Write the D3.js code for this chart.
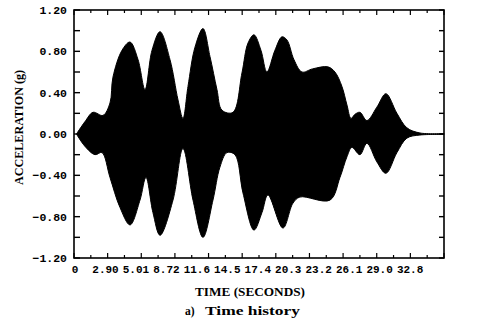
<!DOCTYPE html>
<html>
<head>
<meta charset="utf-8">
<script src="https://cdnjs.cloudflare.com/ajax/libs/d3/7.8.5/d3.min.js"></script>
<style>
  body { margin: 0; background: #fff; }
  svg { display: block; }
  .tick-label { font-family: "Liberation Mono", "DejaVu Sans Mono", monospace; font-weight: bold; font-size: 11.5px; fill: #000; }
  .xlab { font-size: 11px; }
  .title { font-family: "Liberation Serif", "Times New Roman", serif; font-weight: bold; fill: #000; }
</style>
</head>
<body>
<svg id="chart" width="477" height="333"></svg>
<script>
(function (d3) {
    'use strict';

    // x tick labels as printed on the original
    var xLabels = ['0', '2.90', '5.01', '8.72', '11.6', '14.5', '17.4', '20.3', '23.2', '26.1', '29.0', '32.8'];
    var yLabels = [1.2, 0.8, 0.4, 0.0, -0.4, -0.8, -1.2];

    // upper envelope of the acceleration record (time s, g)
    var upperT = [0.24, 1.07, 1.85, 2.82, 3.5, 3.79, 4.67, 5.45, 6.23, 6.91, 7.59, 8.37, 9.34, 10.12, 10.6,
        11.09, 11.77, 12.55, 13.23, 13.91, 14.4, 15.47, 16.34, 16.93, 17.51, 18.19, 18.77, 19.55, 20.23,
        20.72, 21.4, 22.18, 23.2, 24.7, 25.39, 26.07, 26.56, 26.95, 27.33, 27.82, 28.5, 29.47, 30.35,
        31.42, 32.39, 33.66, 36.0];
    var upperV = [0, 0.12, 0.21, 0.18, 0.3, 0.55, 0.81, 0.89, 0.72, 0.43, 0.81, 0.99, 0.72, 0.33, 0.15,
        0.46, 0.84, 1.02, 0.75, 0.43, 0.23, 0.21, 0.59, 0.88, 0.96, 0.81, 0.6, 0.81, 0.94,
        0.91, 0.72, 0.6, 0.63, 0.65, 0.6, 0.46, 0.28, 0.15, 0.19, 0.21, 0.13, 0.26, 0.39,
        0.2, 0.06, 0.01, 0.005];

    // lower envelope
    var lowerT = [0.24, 1.07, 2.04, 2.72, 3.5, 4.47, 5.45, 6.42, 7.0, 7.68, 8.37, 9.63, 10.6, 11.58,
        12.55, 13.52, 14.2, 14.88, 15.66, 16.44, 17.51, 18.29, 18.87, 20.33, 21.3, 21.98, 24.9, 25.88,
        26.56, 27.04, 27.82, 28.5, 29.47, 30.35, 31.42, 32.39, 33.66, 36.0];
    var lowerV = [0, -0.12, -0.2, -0.18, -0.42, -0.71, -0.88, -0.64, -0.42, -0.76, -0.98, -0.64, -0.14, -0.64,
        -1.0, -0.64, -0.32, -0.18, -0.2, -0.57, -0.93, -0.76, -0.59, -0.91, -0.67, -0.61, -0.64, -0.42,
        -0.22, -0.13, -0.2, -0.09, -0.27, -0.38, -0.18, -0.04, -0.01, -0.005];

    var svg = d3.select('#chart'),
        left = 74, right = 444, top = 10, bottom = 258;

    var x = d3.scaleLinear().domain([0, 36]).range([left, right]);
    var y = d3.scaleLinear().domain([-1.2, 1.2]).range([bottom, top]);
    var xl = d3.scalePoint().domain(xLabels).range([x(0.1), x(32.7)]);

    var upper = upperT.map(function (t, i) { return [t, upperV[i]]; });
    var lower = lowerT.map(function (t, i) { return [t, lowerV[i]]; }).reverse();

    var line = d3.line()
        .x(function (d) { return x(d[0]); })
        .y(function (d) { return y(d[1]); })
        .curve(d3.curveCatmullRom.alpha(0.5));

    var path = line(upper) + 'L' + line(lower).slice(1) + 'Z';

    svg.append('path')
        .attr('d', path)
        .attr('fill', '#000')
        .attr('stroke', '#000')
        .attr('stroke-width', 1);

    // frame
    svg.append('rect')
        .attr('x', left).attr('y', top)
        .attr('width', right - left).attr('height', bottom - top)
        .attr('fill', 'none').attr('stroke', '#000').attr('stroke-width', 1.6);

    // x ticks, top and bottom
    var xTicks = d3.range(0, 23).map(function (i) { return i * 36 / 22; });
    xTicks.forEach(function (t, i) {
        var len = i % 2 === 0 ? 5 : 3;
        svg.append('line').attr('x1', x(t)).attr('x2', x(t))
            .attr('y1', bottom).attr('y2', bottom - len)
            .attr('stroke', '#000').attr('stroke-width', 1.2);
        svg.append('line').attr('x1', x(t)).attr('x2', x(t))
            .attr('y1', top).attr('y2', top + len)
            .attr('stroke', '#000').attr('stroke-width', 1.2);
    });

    // y ticks, left and right
    var yTicks = d3.range(-6, 7).map(function (i) { return i * 0.2; });
    yTicks.forEach(function (v) {
        svg.append('line').attr('x1', left).attr('x2', left + 6)
            .attr('y1', y(v)).attr('y2', y(v))
            .attr('stroke', '#000').attr('stroke-width', 1.4);
        svg.append('line').attr('x1', right).attr('x2', right - 5)
            .attr('y1', y(v)).attr('y2', y(v))
            .attr('stroke', '#000').attr('stroke-width', 1.4);
    });

    svg.selectAll('.xlab')
        .data(xLabels)
        .enter()
        .append('text')
        .attr('class', 'tick-label xlab')
        .attr('x', function (d) { return xl(d); })
        .attr('y', 273)
        .attr('text-anchor', 'middle')
        .text(function (d) { return d; });

    svg.selectAll('.ylab')
        .data(yLabels)
        .enter()
        .append('text')
        .attr('class', 'tick-label ylab')
        .attr('x', 67)
        .attr('y', function (d) { return y(d) + 4; })
        .attr('text-anchor', 'end')
        .text(function (d) { return d3.format('.2f')(d); });

    svg.append('text')
        .attr('class', 'title')
        .attr('font-size', 11.5)
        .attr('x', 195).attr('y', 296)
        .attr('textLength', 110)
        .attr('lengthAdjust', 'spacingAndGlyphs')
        .text('TIME (SECONDS)');

    svg.append('text')
        .attr('class', 'title')
        .attr('font-size', 11.5)
        .attr('x', 185).attr('y', 315)
        .text('a)');

    svg.append('text')
        .attr('class', 'title')
        .attr('font-size', 11.5)
        .attr('x', 205).attr('y', 315)
        .attr('textLength', 95)
        .attr('lengthAdjust', 'spacingAndGlyphs')
        .text('Time history');

    svg.append('text')
        .attr('class', 'title')
        .attr('font-size', 12)
        .attr('transform', 'translate(23,185) rotate(-90)')
        .attr('textLength', 115)
        .attr('lengthAdjust', 'spacingAndGlyphs')
        .text('ACCELERATION (g)');
})(d3);
</script>
</body>
</html>
